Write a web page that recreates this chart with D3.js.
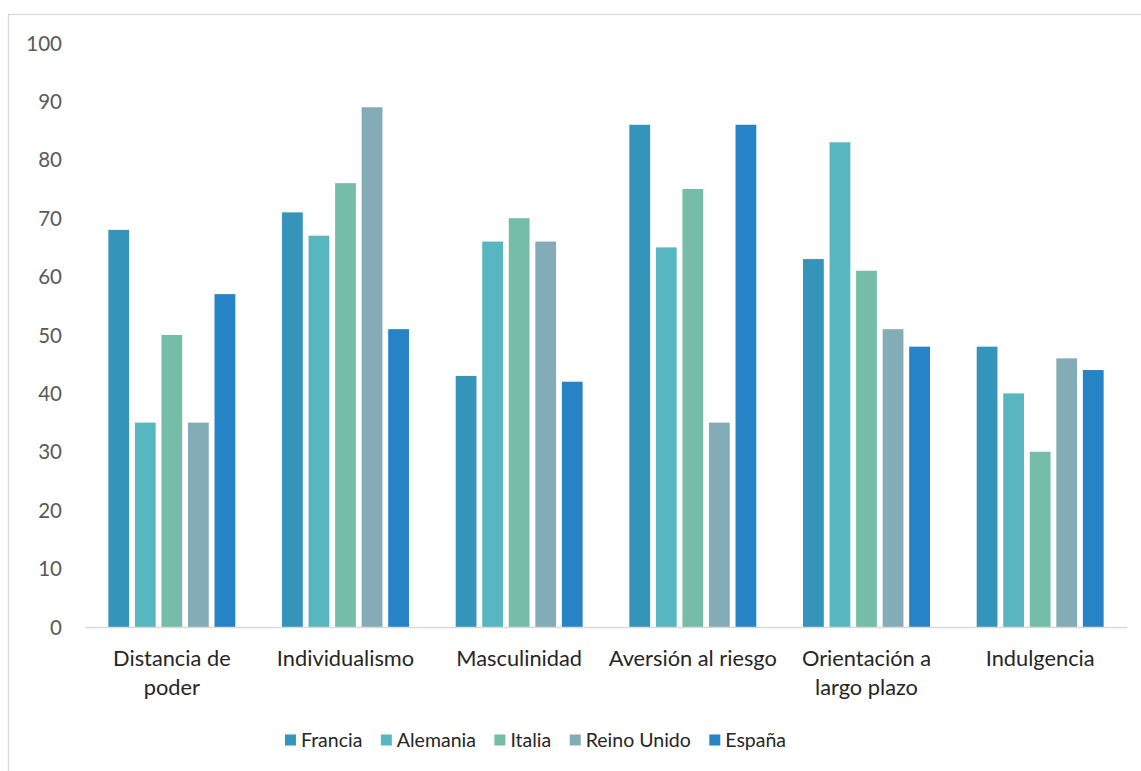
<!DOCTYPE html>
<html>
<head>
<meta charset="utf-8">
<script src="https://cdn.jsdelivr.net/npm/d3@7"></script>
<style>
  html, body { margin: 0; padding: 0; background: #fff; }
  svg { display: block; }
  text { font-family: Lato, "Open Sans", sans-serif; }
</style>
</head>
<body>
<svg id="chart" width="1141" height="771"></svg>
<script>
const categories = ["Distancia de poder", "Individualismo", "Masculinidad", "Aversión al riesgo", "Orientación a largo plazo", "Indulgencia"];
const seriesNames = ["Francia", "Alemania", "Italia", "Reino Unido", "España"];
const francia    = [68, 71, 43, 86, 63, 48];
const alemania   = [35, 67, 66, 65, 83, 40];
const italia     = [50, 76, 70, 75, 61, 30];
const reinoUnido = [35, 89, 66, 35, 51, 46];
const espana     = [57, 51, 42, 86, 48, 44];
const colors = ["#3494BA", "#58B6C0", "#75BDA7", "#84ACB6", "#2683C6"];
const yTicks = [0, 10, 20, 30, 40, 50, 60, 70, 80, 90, 100];

const seriesValues = [francia, alemania, italia, reinoUnido, espana];

const svg = d3.select("#chart");

// chart frame
svg.append("rect")
  .attr("x", 8.5).attr("y", 14.5)
  .attr("width", 1200).attr("height", 800)
  .attr("fill", "#fff").attr("stroke", "#d9d9d9").attr("stroke-width", 1.3);

const plotLeft = 85, plotRight = 1127, plotTop = 43, plotBottom = 627;

const x0 = d3.scaleBand().domain(categories).range([plotLeft, plotRight]).paddingInner(0).paddingOuter(0);
const x1 = d3.scaleBand().domain(seriesNames).range([0, x0.bandwidth()]).paddingInner(0.217).paddingOuter(0.88);
const y = d3.scaleLinear().domain([0, 100]).range([plotBottom, plotTop]);

// y axis labels
const yAxis = d3.axisLeft(y).tickValues(yTicks).tickSize(0).tickPadding(0);
const yg = svg.append("g").attr("transform", `translate(${62},0)`).call(yAxis);
yg.select(".domain").remove();
yg.selectAll("text")
  .attr("fill", "#595959")
  .style("font-size", "20.5px")
  .attr("dy", "0.35em");

// bars
const groups = svg.append("g").selectAll("g")
  .data(categories)
  .join("g")
  .attr("transform", d => `translate(${x0(d)},0)`);

groups.selectAll("rect")
  .data((c, ci) => seriesNames.map((s, si) => ({ s, v: seriesValues[si][ci], i: si })))
  .join("rect")
  .attr("x", d => x1(d.s))
  .attr("width", x1.bandwidth())
  .attr("y", d => y(d.v))
  .attr("height", d => y(0) - y(d.v))
  .attr("fill", d => colors[d.i]);

// x axis
const xAxis = d3.axisBottom(x0).tickSize(0).tickPadding(0);
const xg = svg.append("g").attr("transform", `translate(0,${plotBottom})`).call(xAxis);
xg.select(".domain").attr("stroke", "#d9d9d9").attr("stroke-width", 1.3);
xg.selectAll("text").remove();

// wrapped category labels
const maxW = 174;
xg.selectAll(".tick").each(function(d) {
  const g = d3.select(this);
  const t = g.append("text")
    .attr("text-anchor", "middle")
    .attr("fill", "#262626")
    .style("font-size", "21.8px")
    .attr("y", 39);
  const words = d.split(" ");
  let line = [];
  let tspan = t.append("tspan").attr("x", 0).attr("dy", 0);
  for (const w of words) {
    line.push(w);
    tspan.text(line.join(" "));
    if (tspan.node().getComputedTextLength() > maxW && line.length > 1) {
      line.pop();
      tspan.text(line.join(" "));
      line = [w];
      tspan = t.append("tspan").attr("x", 0).attr("dy", 29).text(w);
    }
  }
});

// legend
const legend = svg.append("g");
const gap = 18.5;
let lx = 0;
seriesNames.forEach((s, i) => {
  const g = legend.append("g");
  g.append("rect").attr("x", 0).attr("y", -5.5).attr("width", 11).attr("height", 11).attr("fill", colors[i]);
  const t = g.append("text").attr("x", 16).attr("dy", "0.36em")
    .attr("fill", "#262626").style("font-size", "19.5px").text(s);
  const w = 16 + t.node().getComputedTextLength();
  g.attr("transform", `translate(${lx},0)`);
  lx += w + gap;
});
const totalW = lx - gap;
legend.attr("transform", `translate(${535.5 - totalW / 2},740)`);
</script>
</body>
</html>
